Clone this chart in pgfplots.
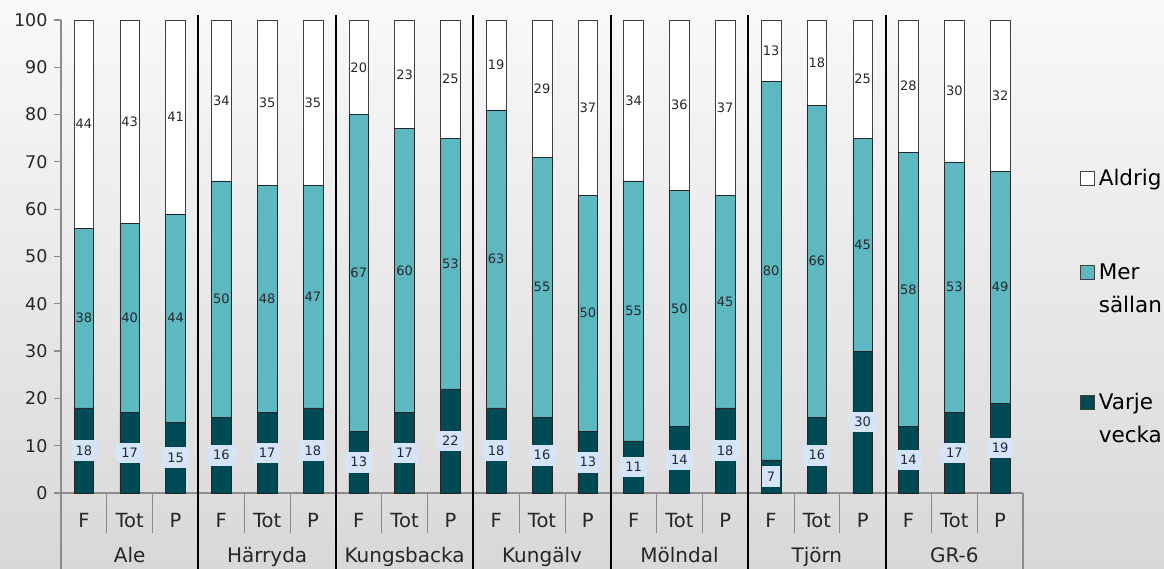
\documentclass[border=0pt]{standalone}
\usepackage{fontspec}
\setmainfont{DejaVu Sans}
\usepackage{pgfplots}
\usepackage{pgfplotstable}
\pgfplotsset{compat=1.18}
\definecolor{vv}{RGB}{0,74,85}
\definecolor{ms}{RGB}{93,184,194}
\definecolor{lbl}{RGB}{214,228,248}
\definecolor{txt}{RGB}{40,40,40}
\definecolor{lbltxt}{RGB}{30,40,60}
\definecolor{axgray}{RGB}{140,140,140}
\definecolor{bgtop}{RGB}{249,249,249}
\definecolor{bgbot}{RGB}{216,216,216}
\pgfplotstableread{
x v m a
0 18 38 44
1 17 40 43
2 15 44 41
3 16 50 34
4 17 48 35
5 18 47 35
6 13 67 20
7 17 60 23
8 22 53 25
9 18 63 19
10 16 55 29
11 13 50 37
12 11 55 34
13 14 50 36
14 18 45 37
15 7 80 13
16 16 66 18
17 30 45 25
18 14 58 28
19 17 53 30
20 19 49 32
}\data
\begin{document}
\begin{tikzpicture}
\shade[top color=bgtop, bottom color=bgbot] (0,0) rectangle (1164pt,569pt);
\begin{axis}[
  at={(61pt,76pt)}, anchor=south west,
  scale only axis, width=962pt, height=473pt,
  clip=false,
  ybar stacked, bar width=0.43,
  xmin=-0.5, xmax=20.5, ymin=0, ymax=100,
  axis lines*=left,
  axis line style={axgray, line width=1.5pt},
  ytick={0,10,...,100},
  yticklabel={\fontsize{17.5}{20}\selectfont\pgfmathprintnumber[assume math mode=true]{\tick}},
  every major y tick/.append style={axgray, line width=1.2pt},
  tick align=outside,
  major tick length=7pt,
  yticklabel style={text=black!85, xshift=-3pt},
  xtick={0,...,20},
  xticklabels={F,Tot,P,F,Tot,P,F,Tot,P,F,Tot,P,F,Tot,P,F,Tot,P,F,Tot,P},
  xticklabel style={font=\fontsize{19.5}{22}\selectfont, text=black!85, yshift=-10pt},
  every major x tick/.append style={draw=none},
  minor xtick={0.5,1.5,3.5,4.5,6.5,7.5,9.5,10.5,12.5,13.5,15.5,16.5,18.5,19.5},
  every minor x tick/.append style={draw=axgray, line width=0.8pt},
  minor tick length=40pt,
  extra x ticks={1,4,7,10,13,16,19},
  extra x tick labels={Ale,Härryda,Kungsbacka,Kungälv,Mölndal,Tjörn,GR-6},
  extra x tick style={tick style={draw=none}, xticklabel style={yshift=-34pt, font=\fontsize{20}{22}\selectfont}},
  legend style={at={(rel axis cs:1,1)}, anchor=north west, xshift=57pt, yshift=-147pt,
    draw=none, fill=none, font=\fontsize{21.5}{33}\selectfont, row sep=73pt,
    inner sep=0pt, nodes={inner sep=2pt}, cells={anchor=base west},
    /tikz/every odd column/.append style={column sep=2pt}},
  reverse legend,
  legend image code/.code={\draw[#1, draw=black!75, line width=0.6pt] (0pt,0pt) rectangle (14pt,14pt);},
  point meta=explicit,
  nodes near coords={\pgfmathprintnumber[assume math mode=true]{\pgfplotspointmeta}},
  every node near coord/.append style={anchor=center, text=txt, inner sep=1pt, font=\fontsize{13}{15}\selectfont},
]
\addplot[fill=vv, draw=black!85, line width=0.6pt,
  every node near coord/.append style={fill=lbl, text=lbltxt, inner xsep=5pt, inner ysep=5.5pt}]
  table[x=x, y=v, meta=v]{\data};
\addlegendentry{\vtop{\hbox{\rule{0pt}{51pt}Varje}\hbox{vecka}}}
\addplot[fill=ms, draw=black!85, line width=0.6pt]
  table[x=x, y=m, meta=m]{\data};
\addlegendentry{\vtop{\hbox{Mer}\hbox{sällan}}}
\addplot[fill=white, draw=black!75, line width=0.6pt]
  table[x=x, y=a, meta=a]{\data};
\addlegendentry{Aldrig}
\pgfplotsinvokeforeach{2.5,5.5,8.5,11.5,14.5,17.5}{
  \draw[black, line width=2pt] (axis cs:#1,101) -- (axis cs:#1,0) -- ++(0pt,-77pt);
}
\draw[axgray, line width=1.5pt] (axis cs:20.5,0) -- ++(0pt,-77pt);
\draw[axgray, line width=1.5pt] (axis cs:-0.5,0) -- ++(0pt,-77pt);
\end{axis}
\pgfresetboundingbox
\path[use as bounding box] (0,0) rectangle (1164pt,569pt);
\end{tikzpicture}
\end{document}
